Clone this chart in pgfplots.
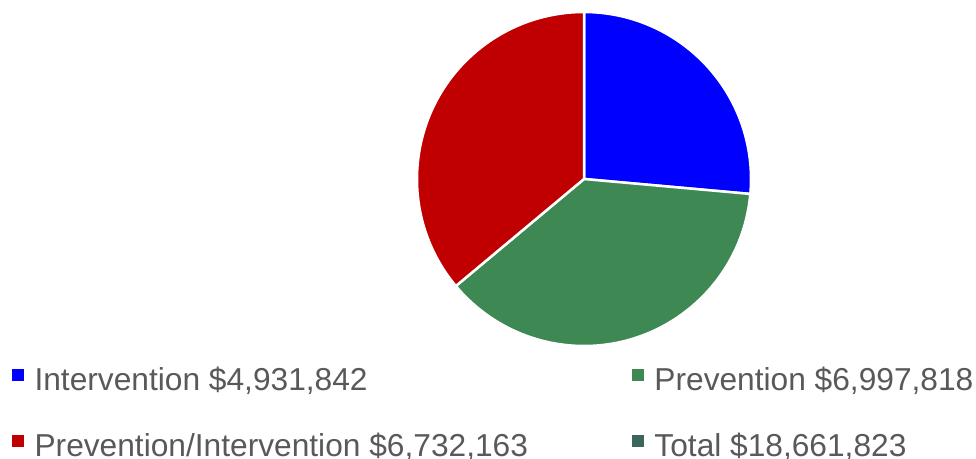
\documentclass[border=0pt]{standalone}
\usepackage{pgfplots}
\pgfplotsset{compat=1.18}
\usepackage{pgfplotstable}
\usepackage{fontspec}
\setmainfont{Liberation Sans}
\definecolor{cBlue}{HTML}{0000FF}
\definecolor{cGreen}{HTML}{3E8853}
\definecolor{cRed}{HTML}{C00000}
\definecolor{cTeal}{HTML}{3A665C}
\definecolor{cText}{HTML}{595959}

\pgfplotstableread{
name value
Intervention 4931842
Prevention 6997818
PreventionIntervention 6732163
}\pietable

\pgfplotstablegetelem{0}{value}\of\pietable \let\vA\pgfplotsretval
\pgfplotstablegetelem{1}{value}\of\pietable \let\vB\pgfplotsretval
\pgfplotstablegetelem{2}{value}\of\pietable \let\vC\pgfplotsretval
\pgfkeys{/pgf/fpu=true,/pgf/fpu/output format=fixed}
\pgfmathsetmacro\tot{\vA+\vB+\vC}
\pgfmathsetmacro\aA{90-360*\vA/\tot}
\pgfmathsetmacro\aB{\aA-360*\vB/\tot}
\pgfkeys{/pgf/fpu=false}

\begin{document}
\begin{tikzpicture}
\useasboundingbox (0,0) rectangle (976pt,458pt);
\begin{axis}[
  at={(418pt,113pt)}, anchor=south west,
  scale only axis, width=332pt, height=332pt,
  xmin=-1, xmax=1, ymin=-1, ymax=1,
  hide axis, clip=false,
  legend columns=2,
  legend cell align=left,
  legend style={
    at={(axis description cs:-1.223,-0.063)}, anchor=north west,
    draw=none, fill=none, inner sep=0pt,
    font=\fontsize{31.7}{38}\selectfont, text=cText,
    nodes={inner sep=0pt, text height=24pt, text depth=6pt},
    row sep=36pt,
    /tikz/every odd column/.append style={column sep=11pt},
    /tikz/every even column/.append style={column sep=104pt},
  },
]
\fill[cBlue, draw=white, line width=2.5pt, line join=round] (axis cs:0,0) -- ++(90:167pt) arc[start angle=90, end angle=\aA, radius=167pt] -- cycle;
\fill[cGreen, draw=white, line width=2.5pt, line join=round] (axis cs:0,0) -- ++(\aA:167pt) arc[start angle=\aA, end angle=\aB, radius=167pt] -- cycle;
\fill[cRed, draw=white, line width=2.5pt, line join=round] (axis cs:0,0) -- ++(\aB:167pt) arc[start angle=\aB, end angle=-270, radius=167pt] -- cycle;
\addlegendimage{legend image code/.code={\fill[cBlue] (0pt,0.5pt) rectangle (11pt,11.5pt);}}
\addlegendentry{Intervention \$4,931,842}
\addlegendimage{legend image code/.code={\fill[cGreen] (0pt,0.5pt) rectangle (11pt,11.5pt);}}
\addlegendentry{Prevention \$6,997,818}
\addlegendimage{legend image code/.code={\fill[cRed] (0pt,0.5pt) rectangle (11pt,11.5pt);}}
\addlegendentry{Prevention/Intervention \$6,732,163}
\addlegendimage{legend image code/.code={\fill[cTeal] (0pt,0.5pt) rectangle (11pt,11.5pt);}}
\addlegendentry{Total \$18,661,823}
\end{axis}
\end{tikzpicture}
\end{document}
